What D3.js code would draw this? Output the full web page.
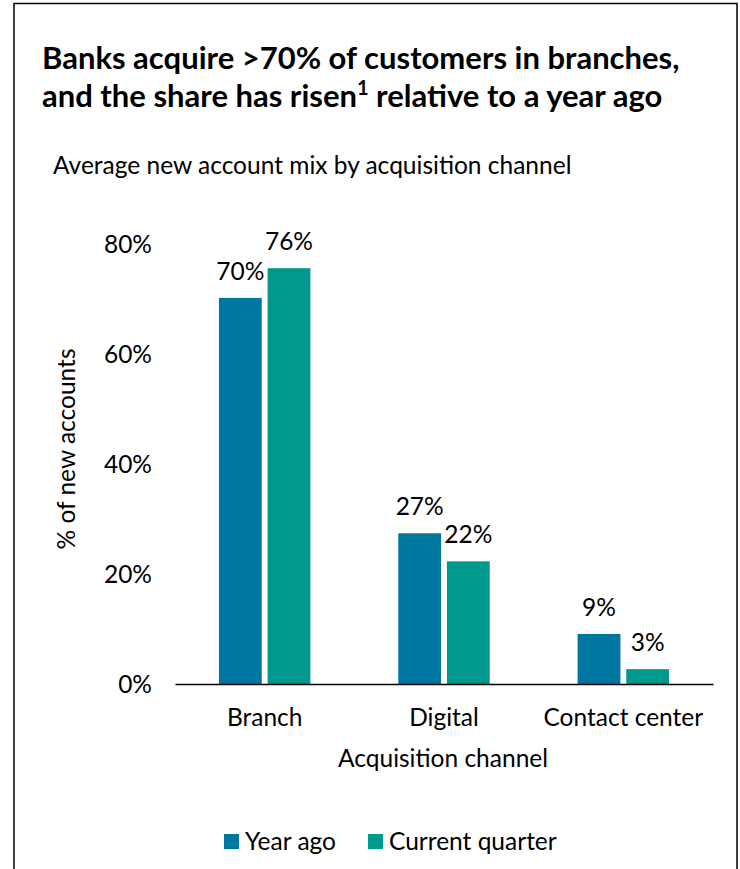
<!DOCTYPE html>
<html>
<head>
<meta charset="utf-8">
<script src="https://unpkg.com/d3@7/dist/d3.min.js"></script>
<style>
  body { margin: 0; background: #fff; }
  text { font-family: Lato, "Open Sans", sans-serif; fill: #000; }
</style>
</head>
<body>
<div id="chart"></div>
<script>
// Data
const channels = ["Branch", "Digital", "Contact center"];
const seriesNames = ["Year ago", "Current quarter"];
const yearAgo = [70.2, 27.4, 9.1];
const currentQuarter = [75.6, 22.3, 2.7];
const yTicks = [0, 20, 40, 60, 80];
const colors = ["#0077a0", "#00998e"];

const w = 740, h = 869;
const fs = 24.5;

const svg = d3.select("#chart")
  .append("svg")
  .attr("width", w)
  .attr("height", h);

// frame
svg.append("path")
  .attr("d", `M14,${h} L14,3.5 L737,3.5 L737,${h}`)
  .attr("fill", "none")
  .attr("stroke", "#000")
  .attr("stroke-width", 1.5);

// title, two lines
svg.append("text")
  .attr("x", 42).attr("y", 69)
  .attr("font-size", 31)
  .attr("font-weight", "bold")
  .text("Banks acquire >70% of customers in branches,");
const t2 = svg.append("text")
  .attr("x", 42).attr("y", 107)
  .attr("font-size", 31)
  .attr("font-weight", "bold");
t2.append("tspan").text("and the share has risen");
t2.append("tspan").attr("font-size", 20).attr("dy", -12).text("1");
t2.append("tspan").attr("dy", 12).text(" relative to a year ago");

svg.append("text")
  .attr("x", 53).attr("y", 174)
  .attr("font-size", fs)
  .text("Average new account mix by acquisition channel");

// scales
const x = d3.scaleBand()
  .domain(channels)
  .range([175, 713])
  .paddingInner(0.49)
  .paddingOuter(0.245);

const xSub = d3.scaleBand()
  .domain(seriesNames)
  .range([0, x.bandwidth()])
  .paddingInner(0.12);

const y = d3.scaleLinear()
  .domain([0, 80])
  .range([684, 244]);

// bars
const rows = channels.map((c, i) => ({ channel: c, values: [yearAgo[i], currentQuarter[i]] }));

const groups = svg.append("g")
  .selectAll("g")
  .data(rows)
  .enter()
  .append("g")
  .attr("transform", d => `translate(${x(d.channel)},0)`);

groups.selectAll("rect")
  .data(d => d.values.map((v, j) => ({ name: seriesNames[j], value: v, j: j })))
  .enter()
  .append("rect")
  .attr("x", d => xSub(d.name))
  .attr("y", d => y(d.value))
  .attr("width", xSub.bandwidth())
  .attr("height", d => y(0) - y(d.value))
  .attr("fill", d => colors[d.j]);

groups.selectAll("text.val")
  .data(d => d.values.map((v, j) => ({ name: seriesNames[j], value: v })))
  .enter()
  .append("text")
  .attr("class", "val")
  .attr("x", d => xSub(d.name) + xSub.bandwidth() / 2)
  .attr("y", d => y(d.value) - 18)
  .attr("text-anchor", "middle")
  .attr("font-size", fs)
  .text(d => Math.round(d.value) + "%");

// y axis (labels only)
const yAxis = svg.append("g")
  .attr("transform", "translate(152,0)")
  .call(d3.axisLeft(y).tickValues(yTicks).tickFormat(d => d + "%").tickSize(0).tickPadding(0));
yAxis.select(".domain").remove();
yAxis.selectAll("text")
  .attr("font-size", fs)
  .attr("font-family", "Lato, sans-serif")
  .attr("fill", "#000")
  .attr("dy", "0.35em");

// x axis
const xAxis = svg.append("g")
  .attr("transform", `translate(0,${y(0)})`)
  .call(d3.axisBottom(x).tickSize(0).tickPadding(24));
xAxis.select(".domain")
  .attr("stroke", "#000")
  .attr("stroke-width", 1.5);
xAxis.selectAll("text")
  .attr("font-size", fs)
  .attr("font-family", "Lato, sans-serif")
  .attr("fill", "#000")
  .attr("dy", 0)
  .attr("y", 726 - 684);

// axis titles
svg.append("text")
  .attr("x", 443).attr("y", 767)
  .attr("text-anchor", "middle")
  .attr("font-size", fs)
  .text("Acquisition channel");

svg.append("text")
  .attr("transform", "translate(75,449) rotate(-90)")
  .attr("text-anchor", "middle")
  .attr("font-size", fs)
  .text("% of new accounts");

// legend
const legendX = [224, 368];
const legend = svg.append("g")
  .selectAll("g")
  .data(seriesNames)
  .enter()
  .append("g")
  .attr("transform", (d, i) => `translate(${legendX[i]},834)`);
legend.append("rect")
  .attr("width", 15).attr("height", 15)
  .attr("fill", (d, i) => colors[i]);
legend.append("text")
  .attr("x", 21).attr("y", 16)
  .attr("font-size", fs)
  .text(d => d);
</script>
</body>
</html>
